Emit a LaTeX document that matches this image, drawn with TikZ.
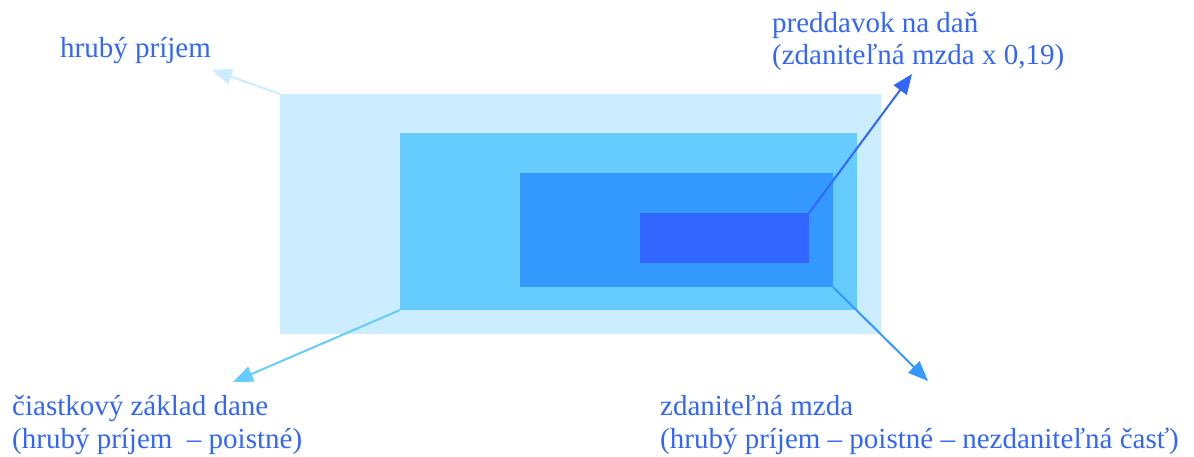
\documentclass[tikz,border=0pt]{standalone}
\usepackage{fontspec}
\setmainfont{Liberation Serif}
\usetikzlibrary{arrows.meta}
\definecolor{cA}{HTML}{CCECFF}
\definecolor{cB}{HTML}{66CCFF}
\definecolor{cC}{HTML}{3399FF}
\definecolor{cD}{HTML}{3366FF}
\tikzset{
  box/.style={draw=none, inner sep=0pt, outer sep=0pt, anchor=north west},
  lbl/.style={anchor=base west, inner sep=0pt, text=cD, align=left,
    font=\fontsize{29}{32.5}\selectfont},
  arr/.style={line width=2pt, -{Triangle[length=20pt,width=16pt]}}
}
\begin{document}
\begin{tikzpicture}[x=1pt,y=-1pt]
\useasboundingbox (0,0) rectangle (1194,457);
\node[box, fill=cA, minimum width=601pt, minimum height=240pt] (r1) at (280,94) {};
\node[box, fill=cB, minimum width=457pt, minimum height=177pt] (r2) at (400,133) {};
\node[box, fill=cC, minimum width=313pt, minimum height=114pt] (r3) at (520,173) {};
\node[box, fill=cD, minimum width=169pt, minimum height=50pt] (r4) at (640,213) {};

\node[lbl] (t1) at (60,58) {hrubý príjem};
\node[lbl] (t2) at (772,65) {preddavok na daň\\(zdaniteľná mzda x 0,19)};
\node[lbl] (t3) at (12,448) {čiastkový základ dane\\(hrubý príjem\ \ – poistné)};
\node[lbl] (t4) at (660,448) {zdaniteľná mzda\\(hrubý príjem – poistné – nezdaniteľná časť)};

\coordinate (e1) at (212,70);
\coordinate (e2) at (912,74);
\coordinate (e3) at (233,382);
\coordinate (e4) at (928,381);

\draw[arr, cA] (r1.north west) -- (e1);
\draw[arr, cD] (r4.north east) -- (e2);
\draw[arr, cB] (r2.south west) -- (e3);
\draw[arr, cC] (r3.south east) -- (e4);
\end{tikzpicture}
\end{document}
